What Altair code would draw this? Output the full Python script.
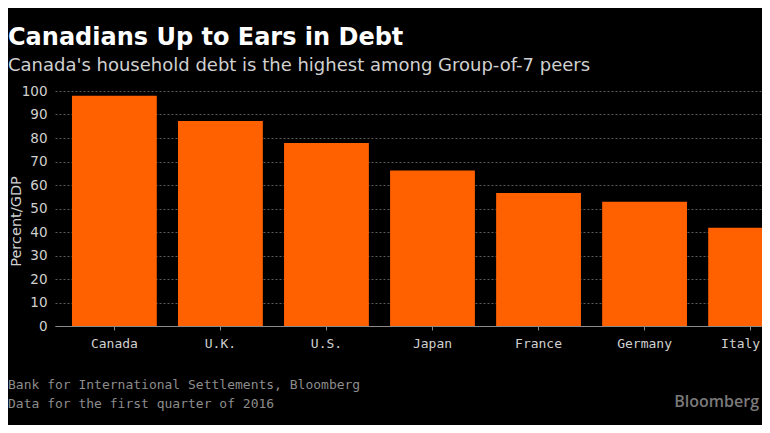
import altair as alt
import pandas as pd

# ---- data ----
countries = ["Canada", "U.K.", "U.S.", "Japan", "France", "Germany", "Italy"]
debt_pct_gdp = [98.0, 87.2, 77.9, 66.2, 56.6, 52.9, 41.8]

title_text = "Canadians Up to Ears in Debt"
subtitle_text = "Canada's household debt is the highest among Group-of-7 peers"
y_title = "Percent/GDP"
footer_source = "Bank for International Settlements, Bloomberg"
footer_note = "Data for the first quarter of 2016"
logo_text = "Bloomberg"

df = pd.DataFrame({"country": countries, "value": debt_pct_gdp})

PLOT_W = 707
PLOT_H = 235

bars = alt.Chart(df).mark_bar(color="#ff6000").encode(
    x=alt.X("country:N", sort=countries, title=None,
            scale=alt.Scale(range=[0, 755], paddingInner=0.2, paddingOuter=0.16),
            axis=alt.Axis(labelAngle=0, labelFont="DejaVu Sans Mono", labelFontSize=13,
                          labelColor="#d0d0d0", domainColor="#8a8a8a", tickColor="#8a8a8a",
                          tickSize=4, labelPadding=7, grid=False,
                          labelOffset=alt.condition("datum.value == 'Italy'",
                                                    alt.value(-10), alt.value(0)))),
    y=alt.Y("value:Q", title=y_title,
            scale=alt.Scale(domain=[0, 100], nice=False),
            axis=alt.Axis(values=list(range(0, 101, 10)), grid=True, gridColor="#5a5a5a",
                          gridDash=[2, 2], gridWidth=1, domain=False, ticks=False,
                          labelFont="DejaVu Sans", labelFontSize=13.5, labelColor="#d0d0d0",
                          labelPadding=8, titleFont="DejaVu Sans", titleFontSize=14.5,
                          titleFontWeight="normal", titleColor="#d0d0d0", titleX=-32,
                          titleY=130)),
)


def footer_line(text, ypos):
    return alt.Chart(pd.DataFrame({"t": [text]})).mark_text(
        align="left", baseline="alphabetic", font="DejaVu Sans Mono", fontSize=13,
        color="#8c8c8c"
    ).encode(text="t:N", x=alt.value(-47), y=alt.value(ypos))


src = footer_line(footer_source, 298)
note = footer_line(footer_note, 317)

logo = alt.Chart(pd.DataFrame({"t": [logo_text]})).mark_text(
    align="right", baseline="alphabetic", font="Open Sans", fontSize=16,
    fontWeight=600, color="#7a7a7a"
).encode(text="t:N", x=alt.value(704), y=alt.value(316))

chart = alt.layer(bars, src, note, logo).properties(
    width=PLOT_W, height=PLOT_H,
    background="black",
    autosize=alt.AutoSizeParams(type="none"),
    padding={"left": 47, "top": 83, "right": 0, "bottom": 99},
    title=alt.TitleParams(
        text=title_text, subtitle=subtitle_text, anchor="start", frame="group",
        font="DejaVu Sans", fontSize=24, fontWeight="bold", color="white",
        subtitleFont="DejaVu Sans", subtitleFontSize=18, subtitleColor="#d0d0d0",
        subtitlePadding=7, dx=-47, offset=9,
    ),
).configure_view(stroke=None)

chart.save("out.html", embed_options={"renderer": "svg", "actions": False})
